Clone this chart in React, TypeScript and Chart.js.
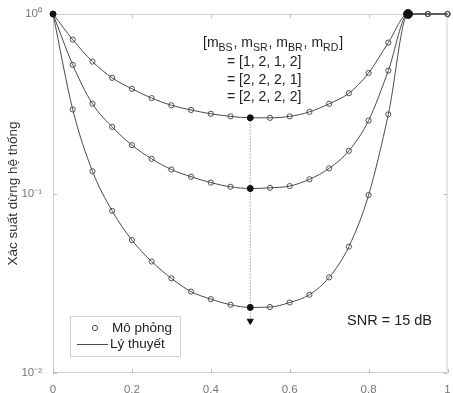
import React, { useEffect, useRef } from "react";
import { Chart, registerables } from "chart.js";

Chart.register(...registerables);

// power-split factor alpha (x axis)
const alpha = [0, 0.05, 0.1, 0.15, 0.2, 0.25, 0.3, 0.35, 0.4, 0.45, 0.5, 0.55, 0.6, 0.65, 0.7, 0.75, 0.8, 0.85, 0.9, 0.95, 1.0];

// outage probability, [mBS, mSR, mBR, mRD] = [1,2,1,2]
const pout1212 = [1, 0.72, 0.543, 0.441, 0.383, 0.34, 0.31, 0.292, 0.278, 0.269, 0.264, 0.264, 0.269, 0.285, 0.316, 0.362, 0.469, 0.693, 1, 1, 1];
// [2,2,2,1]
const pout2221 = [1, 0.521, 0.316, 0.235, 0.186, 0.156, 0.136, 0.124, 0.115, 0.109, 0.1066, 0.1076, 0.11, 0.12, 0.138, 0.173, 0.255, 0.484, 1, 1, 1];
// [2,2,2,2]
const pout2222 = [1, 0.294, 0.133, 0.08, 0.055, 0.0418, 0.0337, 0.0284, 0.0258, 0.024, 0.0232, 0.0233, 0.0247, 0.0273, 0.0341, 0.0506, 0.098, 0.276, 1, 1, 1];

const optimumIndex = 10; // alpha = 0.5
const convergeIndex = 18; // alpha = 0.9
const arrowTip = 0.0195;

const yTickValues = [1, 0.1, 0.01];
const yTickLabels = ["10⁰", "10⁻¹", "10⁻²"];
const xTickValues = [0, 0.2, 0.4, 0.6, 0.8, 1];
const xTickLabels = ["0", "0.2", "0.4", "0.6", "0.8", "1"];

const caseLabels = ["= [1, 2, 1, 2]", "= [2, 2, 2, 1]", "= [2, 2, 2, 2]"];
const legendLabels = ["Mô phỏng", "Lý thuyết"];
const yTitle = "Xác suất dừng hệ thống";
const xTitle = "α";
const snrText = "SNR = 15 dB";

const FONT = '"Liberation Sans", Arial, sans-serif';
const LINE = "#4a4a4a";
const MARK = "#505050";

const series = [pout1212, pout2221, pout2222];

const toPts = (ys: number[]) => alpha.map((x, i) => ({ x, y: ys[i] }));

const overlay = {
  id: "overlay",
  beforeDatasetsDraw(chart: any) {
    const { ctx, chartArea: a } = chart;
    ctx.save();
    ctx.strokeStyle = "#cfcfcf";
    ctx.lineWidth = 1;
    ctx.strokeRect(a.left + 0.5, a.top + 0.5, a.right - a.left - 1, a.bottom - a.top - 1);
    // inward ticks
    const xs = chart.scales.x;
    const ys = chart.scales.y;
    ctx.strokeStyle = "#bdbdbd";
    ctx.beginPath();
    xTickValues.forEach((v) => {
      const px = Math.round(xs.getPixelForValue(v)) + 0.5;
      ctx.moveTo(px, a.bottom);
      ctx.lineTo(px, a.bottom - 4);
      ctx.moveTo(px, a.top);
      ctx.lineTo(px, a.top + 4);
    });
    yTickValues.forEach((v) => {
      const py = Math.round(ys.getPixelForValue(v)) + 0.5;
      ctx.moveTo(a.left, py);
      ctx.lineTo(a.left + 4, py);
      ctx.moveTo(a.right, py);
      ctx.lineTo(a.right - 4, py);
    });
    ctx.stroke();
    ctx.restore();
  },
  afterDatasetsDraw(chart: any) {
    const { ctx } = chart;
    const xs = chart.scales.x;
    ctx.save();
    ctx.fillStyle = "#222";
    ctx.textBaseline = "alphabetic";
    // header with subscripts
    const parts: [string, boolean][] = [
      ["[m", false], ["BS", true], [", m", false], ["SR", true], [", m", false], ["BR", true], [", m", false], ["RD", true], ["]", false],
    ];
    let x = 203;
    const base = 47;
    parts.forEach(([t, sub]) => {
      ctx.font = (sub ? "10.5px " : "14px ") + FONT;
      ctx.fillText(t, x, sub ? base + 4 : base);
      x += ctx.measureText(t).width + (sub ? 1 : 0);
    });
    ctx.font = "14px " + FONT;
    ctx.textBaseline = "middle";
    const caseY = [62, 80, 97];
    caseLabels.forEach((t, i) => ctx.fillText(t, 227, caseY[i]));
    ctx.font = "14.5px " + FONT;
    ctx.fillText(snrText, 347, 321);

    // legend
    ctx.strokeStyle = "#d0d0d0";
    ctx.lineWidth = 1;
    ctx.strokeRect(70.5, 316.5, 110, 40);
    ctx.strokeStyle = MARK;
    ctx.beginPath();
    ctx.arc(95, 328, 2.6, 0, Math.PI * 2);
    ctx.stroke();
    ctx.strokeStyle = LINE;
    ctx.beginPath();
    ctx.moveTo(77, 344.5);
    ctx.lineTo(108, 344.5);
    ctx.stroke();
    ctx.fillStyle = "#222";
    ctx.font = "13.5px " + FONT;
    ctx.fillText(legendLabels[0], 112, 328);
    ctx.fillText(legendLabels[1], 110, 344);

    // x title (cut by the bottom edge)
    ctx.fillStyle = "#666";
    ctx.font = "13px " + FONT;
    ctx.textAlign = "center";
    ctx.fillText(xTitle, xs.getPixelForValue(0.5), 397);
    ctx.restore();
  },
};

export default function App() {
  const ref = useRef<HTMLCanvasElement | null>(null);
  useEffect(() => {
    if (!ref.current) return;
    const theory = series.map((ys) => ({
      type: "line" as const,
      data: toPts(ys),
      borderColor: LINE,
      borderWidth: 1,
      pointRadius: 0,
      cubicInterpolationMode: "monotone" as const,
      clip: false as any,
      order: 3,
    }));
    const sim = series.map((ys) => ({
      type: "scatter" as const,
      data: toPts(ys),
      borderColor: MARK,
      backgroundColor: "rgba(0,0,0,0)",
      borderWidth: 1,
      pointRadius: 2.6,
      showLine: false,
      clip: false as any,
      order: 2,
    }));
    const highlight = {
      type: "scatter" as const,
      data: [
        ...series.map((ys) => ({ x: alpha[optimumIndex], y: ys[optimumIndex] })),
        { x: alpha[convergeIndex], y: pout1212[convergeIndex] },
        { x: alpha[0], y: pout1212[0] },
      ],
      backgroundColor: "#111",
      borderColor: "#111",
      pointRadius: [3, 3, 3, 4.5, 3],
      clip: false as any,
      order: 1,
    };
    const guide = {
      type: "line" as const,
      data: [
        { x: alpha[optimumIndex], y: pout1212[optimumIndex] },
        { x: alpha[optimumIndex], y: arrowTip },
      ],
      borderColor: "#9a9a9a",
      borderWidth: 1,
      borderDash: [1.5, 1.5],
      pointRadius: [0, 3.5],
      pointStyle: "triangle",
      rotation: 180,
      pointBackgroundColor: "#111",
      pointBorderColor: "#111",
      order: 4,
    };
    const chart = new Chart(ref.current, {
      type: "scatter",
      data: { datasets: [guide as any, ...theory, ...sim, highlight] },
      options: {
        responsive: false,
        animation: false,
        events: [],
        layout: { padding: { top: 14, right: 3, left: 0, bottom: 0 } },
        plugins: { legend: { display: false }, tooltip: { enabled: false } },
        scales: {
          x: {
            type: "linear",
            min: 0,
            max: 1,
            afterFit: (s: any) => {
              s.height = 20;
              s.paddingRight = 0;
              s.paddingLeft = 0;
            },
            afterBuildTicks: (s: any) => {
              s.ticks = xTickValues.map((v) => ({ value: v }));
            },
            ticks: {
              color: "#777",
              font: { family: FONT, size: 11.5 },
              padding: 2,
              maxRotation: 0,
              callback: (v: any) => {
                const i = xTickValues.indexOf(Number(v));
                return i >= 0 ? xTickLabels[i] : "";
              },
            },
            grid: { display: false },
            border: { display: false },
          },
          y: {
            type: "logarithmic",
            min: 0.01,
            max: 1,
            afterFit: (s: any) => {
              s.width = 53;
            },
            afterBuildTicks: (s: any) => {
              s.ticks = yTickValues.map((v) => ({ value: v }));
            },
            ticks: {
              color: "#777",
              font: { family: FONT, size: 11.5 },
              padding: 3,
              callback: (v: any) => {
                const i = yTickValues.indexOf(Number(v));
                return i >= 0 ? yTickLabels[i] : "";
              },
            },
            grid: { display: false },
            border: { display: false },
            title: {
              display: true,
              text: yTitle,
              color: "#333",
              font: { family: FONT, size: 13.5 },
              padding: { top: 5, bottom: 4 },
            },
          },
        },
      },
      plugins: [overlay],
    });
    return () => chart.destroy();
  }, []);
  return (
    <div style={{ position: "absolute", left: 0, top: 0, width: 453, height: 393, background: "#fff" }}>
      <canvas ref={ref} width={453} height={393} />
    </div>
  );
}
